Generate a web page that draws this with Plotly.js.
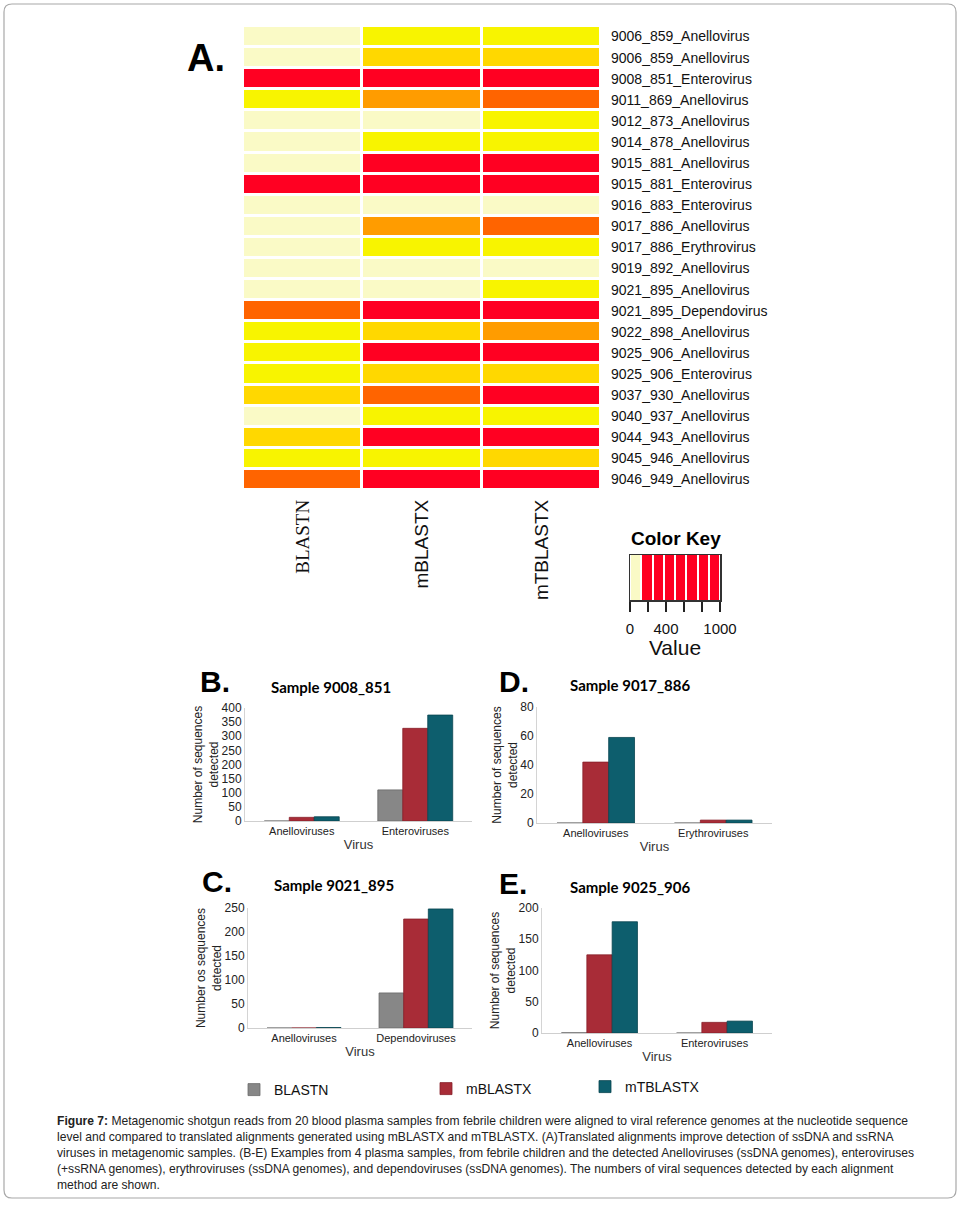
<!DOCTYPE html>
<html><head><meta charset="utf-8">
<script src="https://cdn.plot.ly/plotly-3.0.1.min.js"></script>
<style>html,body{margin:0;padding:0;background:#fff;}#chart{width:962px;height:1205px;}</style>
</head><body><div id="chart"></div>
<script>
// ---------- Panel A: heatmap data ----------
const heatRows = ['9006_859_Anellovirus','9006_859_Anellovirus','9008_851_Enterovirus','9011_869_Anellovirus',
  '9012_873_Anellovirus','9014_878_Anellovirus','9015_881_Anellovirus','9015_881_Enterovirus',
  '9016_883_Enterovirus','9017_886_Anellovirus','9017_886_Erythrovirus','9019_892_Anellovirus',
  '9021_895_Anellovirus','9021_895_Dependovirus','9022_898_Anellovirus','9025_906_Anellovirus',
  '9025_906_Enterovirus','9037_930_Anellovirus','9040_937_Anellovirus','9044_943_Anellovirus',
  '9045_946_Anellovirus','9046_949_Anellovirus'];
const heatCols = ['BLASTN','mBLASTX','mTBLASTX'];
const heatBlastn   = [0, 0, 110, 5, 0, 0, 0, 200, 0, 0, 0, 0, 0, 73, 3, 1, 1, 15, 0, 12, 4, 55];
const heatMblastx  = [5, 20, 328, 40, 0, 6, 150, 300, 0, 42, 2, 0, 0, 227, 15, 125, 17, 65, 5, 140, 8, 160];
const heatMtblastx = [5, 20, 375, 60, 4, 6, 180, 320, 0, 59, 2, 0, 1, 248, 35, 178, 19, 130, 6, 160, 18, 200];

// Color key bins
const keyEdges = [0, 125, 250, 375, 500, 625, 750, 875, 1000];
const keyVals  = [0, 190, 310, 440, 560, 690, 810, 940];
const keyTickVals = [0, 200, 400, 600, 800, 1000];
const keyTickText = ['0', '', '400', '', '', '1000'];

// ---------- Panels B-E: bar data ----------
const catsB = ['Anelloviruses', 'Enteroviruses'];
const blastnB = [0, 110], mblastxB = [13, 328], mtblastxB = [15, 375];
const catsD = ['Anelloviruses', 'Erythroviruses'];
const blastnD = [0, 0], mblastxD = [42, 2], mtblastxD = [59, 2];
const catsC = ['Anelloviruses', 'Dependoviruses'];
const blastnC = [0, 73], mblastxC = [0, 227], mtblastxC = [1, 248];
const catsE = ['Anelloviruses', 'Enteroviruses'];
const blastnE = [0.4, 0], mblastxE = [125, 17], mtblastxE = [178, 19];

const methodNames = ['BLASTN', 'mBLASTX', 'mTBLASTX'];

// ---------- styling ----------
const W = 962, H = 1205;
const px = x => x / W;
const py = y => 1 - y / H;
const pale = '#FAFAC6', yel = '#F8F400', gold = '#FFD800', org = '#FF9C00', dko = '#FF6400', red = '#FF0022';
const heatScale = [[0, pale], [0.0005, pale], [0.0005, yel], [0.01, yel], [0.01, gold], [0.03, gold],
  [0.03, org], [0.05, org], [0.05, dko], [0.1, dko], [0.1, red], [1, red]];
const barColors = ['#878787', '#A82C37', '#0D5E6D'];
const barLines = ['#6a6a6a', '#861f29', '#08444f'];

const z = heatRows.map((r, i) => [heatBlastn[i], heatMblastx[i], heatMtblastx[i]]);
const traces = [];
traces.push({
  type: 'heatmap', z: z, x: [0, 1, 2], y: heatRows.map((r, i) => i),
  colorscale: heatScale, zmin: 0, zmax: 1000, showscale: false, xgap: 3, ygap: 3,
  xaxis: 'x', yaxis: 'y', hoverinfo: 'z'
});
traces.push({
  type: 'heatmap', z: [keyVals], x: keyEdges, y: [0, 1],
  colorscale: heatScale, zmin: 0, zmax: 1000, showscale: false, xgap: 2,
  xaxis: 'x2', yaxis: 'y2', hoverinfo: 'skip'
});

const panels = [
  {cats: catsB, vals: [blastnB, mblastxB, mtblastxB], ax: 3},
  {cats: catsD, vals: [blastnD, mblastxD, mtblastxD], ax: 4},
  {cats: catsC, vals: [blastnC, mblastxC, mtblastxC], ax: 5},
  {cats: catsE, vals: [blastnE, mblastxE, mtblastxE], ax: 6}
];
const legendIds = ['legend', 'legend2', 'legend3'];
panels.forEach((p, pi) => {
  for (let m = 0; m < 3; m++) {
    traces.push({
      type: 'bar', x: p.cats, y: p.vals[m], name: methodNames[m],
      marker: {color: barColors[m], line: {color: barLines[m], width: 0.8}},
      xaxis: 'x' + p.ax, yaxis: 'y' + p.ax,
      showlegend: pi === 0, legend: legendIds[m]
    });
  }
});

const tickFont = {family: 'Arial, Liberation Sans, sans-serif', size: 12, color: '#222'};
function barX(d0, d1, anchor) {
  return {domain: [px(d0), px(d1)], anchor: anchor, showline: true, linecolor: '#cfcfcf', linewidth: 1,
    ticks: '', showgrid: false, zeroline: false, tickfont: {family: 'Arial, Liberation Sans, sans-serif', size: 11, color: '#222'},
    title: {text: 'Virus', font: {size: 13, color: '#333'}, standoff: 3}, fixedrange: true};
}
function barY(top, bottom, range, dtick, anchor, title) {
  return {domain: [py(bottom), py(top)], anchor: anchor, range: range, dtick: dtick, showline: true,
    linecolor: '#d4d4d4', linewidth: 1, ticks: '', showgrid: false, zeroline: false, tickfont: tickFont,
    title: {text: title, font: {size: 12, color: '#222'}, standoff: 0}, fixedrange: true};
}
const ytitle = 'Number of sequences<br>detected';
const ytitleC = 'Number os sequences<br>detected';

const legendBase = {orientation: 'h', xanchor: 'left', yanchor: 'middle', bgcolor: 'rgba(0,0,0,0)',
  font: {family: 'Arial, Liberation Sans, sans-serif', size: 14, color: '#111'}, itemwidth: 30, tracegroupgap: 0};

const ann = [];
function addText(text, x, y, size, opts) {
  ann.push(Object.assign({text: text, x: px(x), y: py(y), xref: 'paper', yref: 'paper', showarrow: false,
    xanchor: 'center', yanchor: 'middle',
    font: {family: 'Arial, Liberation Sans, sans-serif', size: size, color: '#000'}}, opts || {}));
}
addText('<b>A.</b>', 206, 58, 38);
addText('<b>Color Key</b>', 676, 538, 19);
addText('<b>B.</b>', 215, 681, 30);
addText('<b>D.</b>', 514, 681, 30);
addText('<b>C.</b>', 217, 881, 30);
addText('<b>E.</b>', 513, 884, 30);
const titleFont = {family: 'Lato, Open Sans, sans-serif', size: 15, color: '#000'};
addText('<b>Sample 9008_851</b>', 331, 687, 15, {font: titleFont});
addText('<b>Sample 9017_886</b>', 630, 685, 15, {font: titleFont});
addText('<b>Sample 9021_895</b>', 334, 885, 15, {font: titleFont});
addText('<b>Sample 9025_906</b>', 630, 887, 15, {font: titleFont});

const captionLines = [
  '<b>Figure 7:</b> Metagenomic shotgun reads from 20 blood plasma samples from febrile children were aligned to viral reference genomes at the nucleotide sequence',
  'level and compared to translated alignments generated using mBLASTX and mTBLASTX. (A)Translated alignments improve detection of ssDNA and ssRNA',
  'viruses in metagenomic samples. (B-E) Examples from 4 plasma samples, from febrile children and the detected Anelloviruses (ssDNA genomes), enteroviruses',
  '(+ssRNA genomes), erythroviruses (ssDNA genomes), and dependoviruses (ssDNA genomes). The numbers of viral sequences detected by each alignment',
  'method are shown.'
];
const captionY = [1121, 1137, 1153, 1169, 1185];
captionLines.forEach((t, i) => {
  addText(t, 55, captionY[i], 12, {xanchor: 'left', yanchor: 'middle',
    font: {family: 'Arial, Liberation Sans, sans-serif', size: 12.1, color: '#222'}});
});

// rounded border
const bx0 = px(4), bx1 = px(956), by0 = py(1198), by1 = py(4), rx = 8 / W, ry = 8 / H;
const borderPath = `M${bx0 + rx},${by1} L${bx1 - rx},${by1} Q${bx1},${by1} ${bx1},${by1 - ry} L${bx1},${by0 + ry} Q${bx1},${by0} ${bx1 - rx},${by0} L${bx0 + rx},${by0} Q${bx0},${by0} ${bx0},${by0 + ry} L${bx0},${by1 - ry} Q${bx0},${by1} ${bx0 + rx},${by1} Z`;

const layout = {
  width: W, height: H, margin: {l: 0, r: 0, t: 0, b: 0}, paper_bgcolor: '#fff', plot_bgcolor: '#fff',
  font: {family: 'Arial, Liberation Sans, sans-serif', color: '#222'},
  barmode: 'group', bargap: 0.34, bargroupgap: 0, hovermode: false,
  xaxis: {domain: [px(243), px(601)], anchor: 'y', range: [-0.5, 2.5], tickvals: [0, 1, 2],
    ticktext: ['<span style="font-family:Liberation Serif, Times New Roman, serif">BLASTN</span>', 'mBLASTX', 'mTBLASTX'],
    tickangle: -90, ticks: '', showline: false, showgrid: false, zeroline: false, ticklabelstandoff: 5,
    tickfont: {family: 'Arial, Liberation Sans, sans-serif', size: 19, color: '#111'}, fixedrange: true},
  yaxis: {domain: [py(490), py(26)], anchor: 'x', range: [21.5, -0.5], tickvals: heatRows.map((r, i) => i),
    ticktext: heatRows, side: 'right', ticks: '', showline: false, showgrid: false, zeroline: false,
    ticklabelstandoff: 9, tickfont: {family: 'Arial, Liberation Sans, sans-serif', size: 14, color: '#111'}, fixedrange: true},
  xaxis2: {domain: [px(630), px(720)], anchor: 'y2', range: [0, 1000], tickvals: keyTickVals, ticktext: keyTickText,
    ticks: 'outside', ticklen: 10, tickwidth: 2, tickcolor: '#222', showline: true, mirror: true, linecolor: '#333',
    linewidth: 1.5, showgrid: false, zeroline: false, ticklabelstandoff: 4,
    tickfont: {family: 'Arial, Liberation Sans, sans-serif', size: 15, color: '#111'},
    title: {text: 'Value', font: {size: 21, color: '#111'}, standoff: 2}, fixedrange: true},
  yaxis2: {domain: [py(600), py(555)], anchor: 'x2', range: [0, 1], showticklabels: false, ticks: '',
    showline: true, mirror: true, linecolor: '#333', linewidth: 1.5, showgrid: false, zeroline: false, fixedrange: true},
  xaxis3: barX(245, 472, 'y3'),
  yaxis3: barY(708, 821, [0, 400], 50, 'x3', ytitle),
  xaxis4: barX(537, 772, 'y4'),
  yaxis4: barY(707, 823, [0, 80], 20, 'x4', ytitle),
  xaxis5: barX(248, 472, 'y5'),
  yaxis5: barY(908, 1028, [0, 250], 50, 'x5', ytitleC),
  xaxis6: barX(542, 772, 'y6'),
  yaxis6: barY(908, 1033, [0, 200], 50, 'x6', ytitle),
  legend: Object.assign({}, legendBase, {x: px(234), y: py(1090)}),
  legend2: Object.assign({}, legendBase, {x: px(426), y: py(1089)}),
  legend3: Object.assign({}, legendBase, {x: px(585), y: py(1087)}),
  annotations: ann,
  shapes: [{type: 'path', path: borderPath, xref: 'paper', yref: 'paper', line: {color: '#a8a8a8', width: 1.2}, layer: 'below'}]
};
Plotly.newPlot('chart', traces, layout, {staticPlot: true, displayModeBar: false});
</script></body></html>
